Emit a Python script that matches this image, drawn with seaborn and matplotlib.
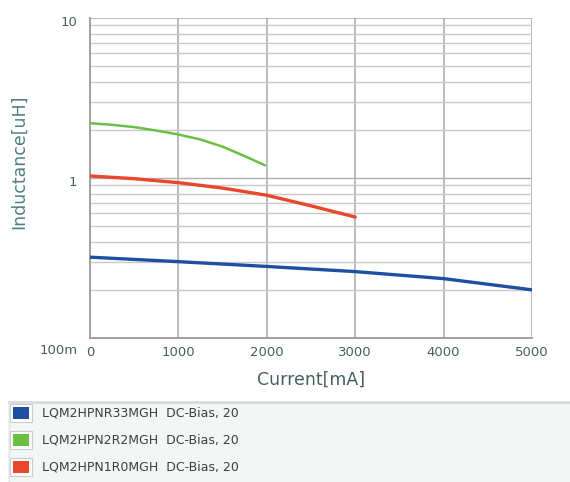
import numpy as np
import pandas as pd
import matplotlib
matplotlib.use("Agg")
import matplotlib.pyplot as plt
import matplotlib.transforms as mtransforms
import seaborn as sns
from matplotlib.patches import Rectangle

# ---- data ----
blue_x = [0, 1000, 2000, 3000, 4000, 5000]
blue_y = [0.32, 0.30, 0.28, 0.26, 0.235, 0.20]

green_x = [0, 250, 500, 750, 1000, 1250, 1500, 1750, 1980]
green_y = [2.2, 2.15, 2.08, 1.98, 1.87, 1.74, 1.57, 1.37, 1.2]

red_x = [0, 500, 1000, 1500, 2000, 2500, 3000]
red_y = [1.03, 0.99, 0.935, 0.865, 0.78, 0.67, 0.57]

series_names = ["LQM2HPNR33MGH  DC-Bias, 20",
                "LQM2HPN2R2MGH  DC-Bias, 20",
                "LQM2HPN1R0MGH  DC-Bias, 20"]
series_colors = ["#1f4fa3", "#6cbf45", "#e8472c"]

x_ticks = [0, 1000, 2000, 3000, 4000, 5000]
x_tick_labels = ["0", "1000", "2000", "3000", "4000", "5000"]
y_ticks = [0.1, 1, 10]
y_tick_labels = ["100m", "1", "10"]

x_label = "Current[mA]"
y_label = "Inductance[uH]"

# ---- frame ----
frames = []
for name, xs, ys in [(series_names[0], blue_x, blue_y),
                     (series_names[1], green_x, green_y),
                     (series_names[2], red_x, red_y)]:
    frames.append(pd.DataFrame({"x": xs, "y": ys, "series": name}))
df = pd.concat(frames, ignore_index=True)

sns.set_style("white")
plt.rcParams["font.family"] = ["DejaVu Sans"]

fig = plt.figure(figsize=(5.7, 4.82), dpi=100)
ax = fig.add_axes([90 / 570, 1 - 338 / 482, (532 - 90) / 570, (338 - 18) / 482])

ax.set_yscale("log")
ax.set_xlim(0, 5000)
ax.set_ylim(0.1, 10)

# grid
for v in [1000, 2000, 3000, 4000, 5000]:
    ax.axvline(v, color="#a8a8a8", lw=1.1, zorder=1)
for dec in [0.1, 1]:
    for m in range(2, 10):
        ax.axhline(dec * m, color="#c8c8c8", lw=1.0, zorder=1)
ax.axhline(1, color="#b0b0b0", lw=1.0, zorder=1)
ax.axhline(10, color="#b0b0b0", lw=1.2, zorder=1)

sns.lineplot(data=df, x="x", y="y", hue="series", palette=dict(zip(series_names, series_colors)),
             ax=ax, legend=False, lw=2.4, zorder=3, sort=False, estimator=None)
for line in ax.get_lines():
    if line.get_color() == series_colors[1]:
        line.set_linewidth(1.8)

for s in ["top", "right"]:
    ax.spines[s].set_visible(False)
for s in ["left", "bottom"]:
    ax.spines[s].set_color("#9a9a9a")
    ax.spines[s].set_linewidth(1.3)

txt_col = "#45605f"
ax.set_xticks(x_ticks)
ax.set_xticklabels(x_tick_labels)
ax.set_yticks(y_ticks)
ax.set_yticklabels(y_tick_labels)
ax.yaxis.set_minor_locator(matplotlib.ticker.NullLocator())
ax.tick_params(axis="both", length=0, labelsize=9.5, labelcolor=txt_col)
ax.tick_params(axis="x", pad=6)
ax.tick_params(axis="y", pad=9)
for lbl in ax.get_yticklabels():
    dy = -11 if lbl.get_text() == "100m" else -3
    lbl.set_transform(lbl.get_transform() + mtransforms.ScaledTranslation(0, dy / 100, fig.dpi_scale_trans))
ax.set_xlabel(x_label, fontsize=12.5, color=txt_col, labelpad=8)
ax.set_ylabel(y_label, fontsize=12.5, color="#4d8080")
ax.yaxis.set_label_coords(-0.14, 0.55)

# ---- legend panel ----
lax = fig.add_axes([8 / 570, 0, 562 / 570, (482 - 401) / 482])
lax.set_xlim(0, 562)
lax.set_ylim(81, 0)
lax.axis("off")
lax.add_patch(Rectangle((0, 0), 562, 81, facecolor="#f4f6f6", edgecolor="none"))
lax.plot([0, 562], [0.8, 0.8], color="#d8dcdc", lw=2)
lax.plot([0.5, 0.5], [0, 81], color="#e0e4e4", lw=1)
row_y = [12, 39, 66]
for yy, name, col in zip(row_y, series_names, series_colors):
    lax.add_patch(Rectangle((2, yy - 9), 22, 18, facecolor="white", edgecolor="#c8cccc", lw=0.8))
    lax.add_patch(Rectangle((5, yy - 6), 16, 12, facecolor=col, edgecolor="none"))
    lax.text(34, yy, name, fontsize=9, color="#3a3f40", va="center", ha="left")

fig.savefig("out.png", dpi=100)
